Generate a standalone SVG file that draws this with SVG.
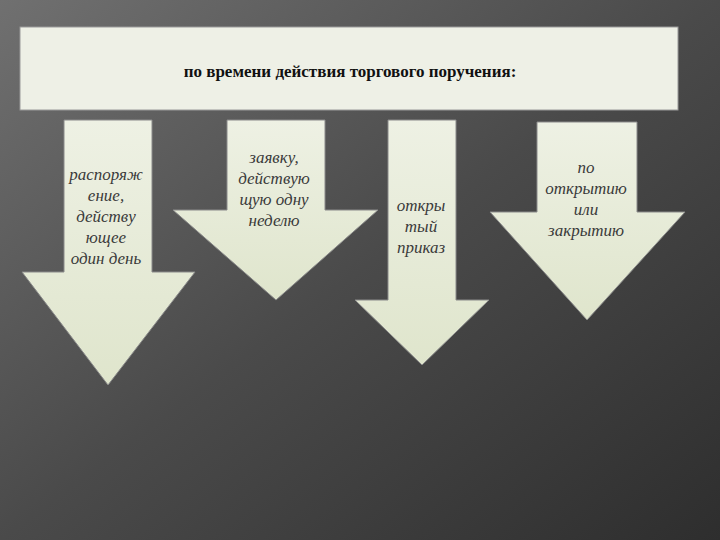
<svg xmlns="http://www.w3.org/2000/svg" width="720" height="540" viewBox="0 0 720 540">
<defs>
<linearGradient id="bg" x1="0" y1="0" x2="1" y2="1">
<stop offset="0" stop-color="#707070"/>
<stop offset="0.5" stop-color="#4a4a4a"/>
<stop offset="1" stop-color="#2e2e2e"/>
</linearGradient>
<linearGradient id="af" x1="0" y1="0" x2="0" y2="1">
<stop offset="0" stop-color="#eef1e4"/>
<stop offset="1" stop-color="#dfe5cc"/>
</linearGradient>
<style>
.arr{fill:url(#af);stroke:#8a8a8a;stroke-width:1}
.t{font-family:"Liberation Serif","DejaVu Serif",serif;font-style:italic;font-size:17px;fill:#3a3a3a;text-anchor:middle}
.h{font-family:"Liberation Serif","DejaVu Serif",serif;font-size:17px;font-weight:bold;fill:#111;text-anchor:middle}
</style>
</defs>
<rect width="720" height="540" fill="url(#bg)"/>
<g id="header">
<rect x="20" y="27" width="658" height="83" fill="#eef0e6" stroke="#999"/>
<text class="h" x="350" y="77">по времени действия торгового поручения:</text>
</g>
<g id="a1">
<polygon class="arr" points="64,120 152,120 152,272 195,272 108,385 22,272 64,272"/>
<text class="t" x="106" y="180">распоряж</text>
<text class="t" x="106" y="201">ение,</text>
<text class="t" x="106" y="222">действу</text>
<text class="t" x="106" y="243">ющее</text>
<text class="t" x="106" y="264">один день</text>
</g>
<g id="a2">
<polygon class="arr" points="227,120 325,120 325,210 378,210 276,300 173,210 227,210"/>
<text class="t" x="274" y="163">заявку,</text>
<text class="t" x="274" y="184">действую</text>
<text class="t" x="274" y="205">щую одну</text>
<text class="t" x="274" y="226">неделю</text>
</g>
<g id="a3">
<polygon class="arr" points="388,120 456,120 456,300 489,300 422,365 355,300 388,300"/>
<text class="t" x="421" y="211">откры</text>
<text class="t" x="421" y="232">тый</text>
<text class="t" x="421" y="253">приказ</text>
</g>
<g id="a4">
<polygon class="arr" points="537,122 637,122 637,212 685,212 587,320 490,212 537,212"/>
<text class="t" x="586" y="173">по</text>
<text class="t" x="586" y="194">открытию</text>
<text class="t" x="586" y="215">или</text>
<text class="t" x="586" y="236">закрытию</text>
</g>
<g id="connectors"/>
</svg>
